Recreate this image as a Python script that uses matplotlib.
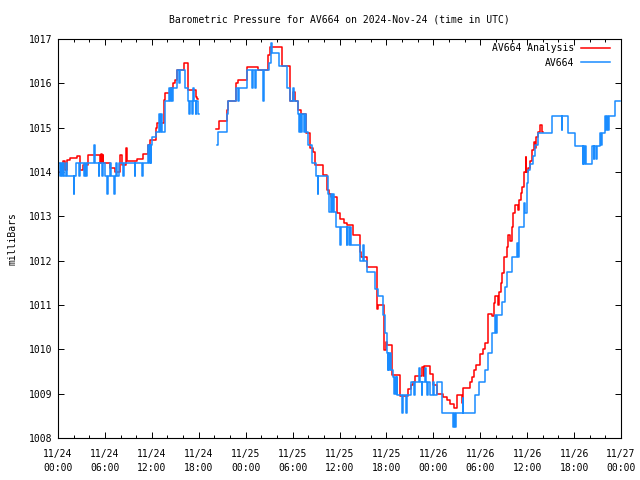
import numpy as np
import matplotlib
matplotlib.use("Agg")
import matplotlib.pyplot as plt
import matplotlib.dates as mdates
from datetime import datetime, timedelta

# ---- data (hours since 2024-11-24 00:00 UTC, pressure in mb) ----
blue_hours = [
    0.0, 0.2, 0.35, 0.5, 0.65, 0.8, 1.0, 1.15, 2.0, 2.1, 2.3, 2.7, 2.85, 3.3, 3.4, 3.6, 3.7,
    4.65, 4.75, 5.2, 5.3, 5.6, 5.7, 6.0, 6.3, 6.4, 6.6, 6.75, 7.2, 7.3, 7.45, 7.6, 7.75,
    8.3, 8.4, 9.8, 9.9, 10.75, 10.85, 11.55, 11.65, 11.75, 11.85, 11.95, 12.05, 12.5, 12.9,
    13.0, 13.2, 13.3, 13.65, 14.2, 14.3, 14.45, 14.55, 14.65, 15.2, 15.5, 15.6, 16.2, 16.6,
    16.8, 16.9, 17.2, 17.3, 17.45, 17.6, 17.7, 17.85, 18.0, 18.05,
    20.3, 20.45, 21.55, 21.7, 22.8, 23.0, 23.15, 24.15, 24.8, 24.9, 25.2, 25.3, 26.2, 26.3,
    26.95, 27.2, 27.35, 28.2, 29.25, 29.7, 30.0, 30.2, 30.65, 30.8, 30.95, 31.1, 31.25, 31.4,
    31.55, 31.75, 31.95, 32.45, 33.0, 33.2, 33.3, 34.5, 34.7, 34.85, 35.0, 35.15, 35.3, 35.6,
    36.1, 36.2, 36.9, 37.0, 37.2, 37.3, 37.5, 38.6, 39.0, 39.1, 39.5, 40.6, 40.9, 41.6, 41.8,
    42.05, 42.15, 42.25, 42.35, 42.45, 42.6, 42.85, 43.0, 43.1, 43.2, 43.3, 43.4, 44.05, 44.15,
    44.55, 44.65, 45.2, 45.5, 45.6, 46.2, 46.3, 46.5, 46.6, 46.9, 47.0, 47.2, 47.3, 47.55,
    48.0, 48.1, 48.5, 49.1, 50.55, 50.65, 50.75, 50.85, 51.75, 51.85, 53.3, 53.8, 54.6, 55.0,
    55.5, 55.85, 56.0, 56.1, 56.75, 57.15, 57.45, 58.05, 58.75, 58.85, 58.95, 59.55, 59.65,
    59.75, 59.95, 60.1, 60.3, 60.7, 60.95, 61.35, 63.2, 64.4, 64.5, 65.2, 66.1, 67.1, 67.2,
    67.3, 67.4, 67.5, 68.3, 68.5, 68.6, 68.8, 68.9, 69.3, 69.5, 69.6, 69.95, 70.1, 70.2,
    70.35, 70.45, 71.2, 71.9,
]
blue_mb = [
    1014.2, 1013.9, 1014.2, 1013.9, 1014.2, 1013.9, 1014.2, 1013.9, 1013.5, 1013.9, 1014.2, 1013.9, 1014.2, 1013.9, 1014.2, 1013.9, 1014.2,
    1014.6, 1014.2, 1013.9, 1014.2, 1013.9, 1014.2, 1013.9, 1013.5, 1013.9, 1014.2, 1013.9, 1013.5, 1013.9, 1014.2, 1013.9, 1014.2,
    1013.9, 1014.2, 1013.9, 1014.2, 1013.9, 1014.2, 1014.6, 1014.2, 1014.6, 1014.2, 1014.6, 1014.8, 1014.9, 1015.3,
    1014.9, 1015.3, 1014.9, 1015.6, 1015.9, 1015.6, 1015.9, 1015.6, 1015.9, 1016.3, 1016.0, 1016.3, 1015.9, 1015.6,
    1015.3, 1015.6, 1015.3, 1015.9, 1015.6, 1015.3, 1015.6, 1015.3, 1015.3, np.nan,
    1014.6, 1014.9, 1015.3, 1015.6, 1015.9, 1015.6, 1015.9, 1016.3, 1015.9, 1016.3, 1015.9, 1016.3, 1015.6, 1016.3,
    1016.45, 1016.9, 1016.68, 1016.4, 1015.9, 1015.6, 1015.9, 1015.6, 1015.3, 1014.9, 1015.3, 1014.9, 1015.3, 1014.9,
    1015.3, 1014.9, 1014.6, 1014.2, 1013.9, 1013.5, 1013.9, 1013.5, 1013.1, 1013.5, 1013.1, 1013.5, 1013.1, 1012.76,
    1012.35, 1012.76, 1012.35, 1012.76, 1012.35, 1012.76, 1012.35, 1012.0, 1012.35, 1012.0, 1011.75, 1011.35, 1011.2, 1010.77, 1010.37,
    1009.92, 1009.53, 1009.92, 1009.53, 1009.92, 1009.53, 1009.38, 1009.0, 1009.38, 1009.0, 1009.38, 1008.97, 1008.56, 1008.97,
    1008.56, 1008.97, 1009.27, 1008.97, 1009.27, 1009.58, 1009.27, 1008.97, 1009.27, 1009.58, 1009.27, 1008.97, 1009.27, 1008.97,
    1009.27, 1008.97, 1009.27, 1008.56, 1008.25, 1008.56, 1008.25, 1008.56, 1008.9, 1008.56, 1008.97, 1009.27, 1009.53, 1009.92,
    1010.37, 1010.77, 1010.37, 1010.77, 1011.07, 1011.4, 1011.75, 1012.08, 1012.4, 1012.08, 1012.76, 1013.07, 1013.3,
    1013.07, 1013.75, 1014.05, 1014.18, 1014.35, 1014.6, 1014.88, 1015.27, 1014.95, 1015.27, 1014.88, 1014.58, 1014.18, 1014.58,
    1014.18, 1014.58, 1014.18, 1014.58, 1014.3, 1014.58, 1014.3, 1014.58, 1014.88, 1014.6, 1014.88, 1015.27, 1014.95, 1015.27,
    1014.95, 1015.27, 1015.6, 1015.6,
]

red_hours = [
    0.0, 0.5, 0.7, 0.85, 1.1, 1.55, 2.45, 2.8, 3.2, 3.85, 5.4, 5.5, 5.6, 5.7, 5.75, 6.65, 7.3,
    7.9, 8.2, 8.75, 8.85, 10.1, 10.9, 11.55, 11.8, 12.5, 12.7, 13.55, 13.7, 14.4, 14.7, 14.9,
    15.2, 16.05, 16.65, 17.6, 17.8, 17.85,
    20.2, 20.6, 21.6, 21.75, 22.75, 23.0, 24.2, 25.6, 26.9, 27.05, 28.6, 29.7, 30.1, 30.3,
    30.65, 31.1, 31.75, 32.25, 32.6, 32.9, 33.85, 34.4, 34.6, 34.9, 35.65, 36.1, 36.6, 36.9,
    37.7, 38.6, 38.8, 39.5, 40.75, 40.9, 41.7, 41.9, 42.05, 42.7, 43.7, 44.7, 45.1, 45.4,
    45.7, 46.6, 46.75, 46.85, 47.6, 47.9, 48.5, 49.2, 49.8, 50.1, 50.6, 51.0, 51.7, 51.85,
    52.7, 52.9, 53.2, 53.4, 54.0, 54.4, 54.6, 55.0, 55.5, 55.7, 55.9, 56.25, 56.35, 56.7,
    56.8, 57.0, 57.1, 57.4, 57.6, 57.8, 58.0, 58.2, 58.5, 58.8, 58.95, 59.2, 59.4, 59.6,
    59.8, 59.9, 60.1, 60.4, 60.65, 60.9, 61.0, 61.15, 61.4, 61.65, 61.95, 62.0,
]
red_mb = [
    1014.0, 1014.1, 1014.25, 1014.05, 1014.27, 1014.32, 1014.35, 1014.05, 1014.16, 1014.38, 1014.2, 1014.4, 1014.2, 1014.38, 1014.2, 1014.1, 1014.0,
    1014.38, 1014.15, 1014.54, 1014.25, 1014.3, 1014.4, 1014.6, 1014.72, 1015.0, 1015.1, 1015.62, 1015.78, 1015.9, 1016.0, 1016.07,
    1016.3, 1016.46, 1015.85, 1015.7, 1015.65, np.nan,
    1014.97, 1015.15, 1015.4, 1015.6, 1016.0, 1016.07, 1016.37, 1016.3, 1016.64, 1016.83, 1016.39, 1015.6, 1015.8, 1015.6,
    1015.4, 1015.3, 1014.87, 1014.54, 1014.45, 1014.16, 1013.93, 1013.6, 1013.5, 1013.44, 1013.07, 1012.95, 1012.85, 1012.8,
    1012.58, 1012.2, 1012.09, 1011.86, 1010.9, 1011.0, 1009.98, 1010.16, 1010.1, 1009.42, 1008.95, 1009.1, 1009.2, 1009.27,
    1009.4, 1009.6, 1009.4, 1009.63, 1009.45, 1009.2, 1009.0, 1008.92, 1008.85, 1008.76, 1008.68, 1008.97, 1008.8, 1009.13,
    1009.26, 1009.38, 1009.53, 1009.65, 1009.9, 1010.0, 1010.15, 1010.8, 1010.75, 1011.05, 1011.2, 1011.0, 1011.3, 1011.5,
    1011.72, 1011.9, 1012.08, 1012.3, 1012.58, 1012.45, 1012.76, 1013.07, 1013.25, 1013.15, 1013.37, 1013.52, 1013.66, 1014.0,
    1014.34, 1014.0, 1014.1, 1014.25, 1014.5, 1014.68, 1014.55, 1014.8, 1014.9, 1015.06, 1014.9, 1014.9,
]

y_ticks = [1008, 1009, 1010, 1011, 1012, 1013, 1014, 1015, 1016, 1017]
title = "Barometric Pressure for AV664 on 2024-Nov-24 (time in UTC)"

base = datetime(2024, 11, 24)
def to_dt(hours):
    return [base + timedelta(hours=float(h)) for h in hours]

plt.rcParams['font.family'] = ['DejaVu Sans Mono']
plt.rcParams['font.size'] = 7

fig = plt.figure(figsize=(6.4, 4.8), dpi=100)
ax = fig.add_axes([58/640, 1-438/480, (621-58)/640, (438-39)/480])

ax.plot(to_dt(red_hours), red_mb, color='#ff0000', lw=1.1, drawstyle='steps-post', label='AV664 Analysis')
ax.plot(to_dt(blue_hours), blue_mb, color='#1a8cff', lw=1.1, drawstyle='steps-post', label='AV664')

ax.set_xlim(base, base + timedelta(hours=72))
ax.set_ylim(1008, 1017)
ax.set_yticks(y_ticks)
ax.set_yticklabels([str(v) for v in y_ticks])

xt = [base + timedelta(hours=6*i) for i in range(13)]
ax.set_xticks(xt)
ax.set_xticklabels([d.strftime('%m/%d\n%H:%M') for d in xt], linespacing=1.45)
ax.xaxis.set_minor_locator(mdates.HourLocator(byhour=range(0, 24, 2)))

ax.tick_params(axis='both', which='both', direction='in', top=True, right=True, color='black')
ax.tick_params(axis='both', which='major', length=4.5, width=0.7)
ax.tick_params(axis='x', which='minor', length=2.5, width=0.7)
ax.tick_params(axis='x', which='major', pad=8)
ax.tick_params(axis='y', which='major', pad=4)
for s in ax.spines.values():
    s.set_linewidth(0.8)

ax.set_ylabel('milliBars', labelpad=8)
fig.text(339.5/640, 1-19/480, title, ha='center', va='center')

ax.legend(loc='upper right', bbox_to_anchor=(0.981, 0.99), markerfirst=False, frameon=False,
          handlelength=3.0, handletextpad=0.7, labelspacing=0.5, borderpad=0, borderaxespad=0)

fig.savefig('out.png', dpi=100)
